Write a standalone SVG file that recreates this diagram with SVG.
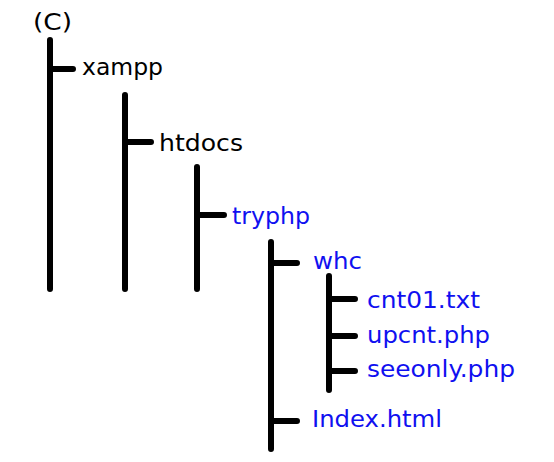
<svg xmlns="http://www.w3.org/2000/svg" width="554" height="462" viewBox="0 0 554 462">
<style>
.t{font-family:"DejaVu Sans","Liberation Sans",sans-serif;font-size:23px;fill:#000}
.b{fill:#1010f0}
.c{stroke:#000;stroke-width:6;stroke-linecap:round;fill:none}
</style>
<rect width="554" height="462" fill="#fff"/>
<g id="connectors">
<path class="c" d="M50 40V289M50 69H73"/>
<path class="c" d="M125 95V289M125 142H151"/>
<path class="c" d="M197 167V289M197 215H224"/>
<path class="c" d="M271 242V449M271 263H297M271 421H297"/>
<path class="c" d="M329 276V390M329 299H355M329 336H355M329 371H355"/>
</g>
<g id="c"><text class="t" x="33" y="30" textLength="39" lengthAdjust="spacingAndGlyphs">(C)</text></g>
<g id="xampp"><text class="t" x="82" y="75" textLength="81" lengthAdjust="spacingAndGlyphs">xampp</text></g>
<g id="htdocs"><text class="t" x="159" y="151" textLength="84" lengthAdjust="spacingAndGlyphs">htdocs</text></g>
<g id="tryphp"><text class="t b" x="232" y="224" textLength="78" lengthAdjust="spacingAndGlyphs">tryphp</text></g>
<g id="whc"><text class="t b" x="313" y="269" textLength="49" lengthAdjust="spacingAndGlyphs">whc</text></g>
<g id="cnt01"><text class="t b" x="367" y="308" textLength="113" lengthAdjust="spacingAndGlyphs">cnt01.txt</text></g>
<g id="upcnt"><text class="t b" x="367" y="343" textLength="123" lengthAdjust="spacingAndGlyphs">upcnt.php</text></g>
<g id="seeonly"><text class="t b" x="367" y="377" textLength="148" lengthAdjust="spacingAndGlyphs">seeonly.php</text></g>
<g id="index"><text class="t b" x="312" y="427" textLength="130" lengthAdjust="spacingAndGlyphs">Index.html</text></g>
</svg>
